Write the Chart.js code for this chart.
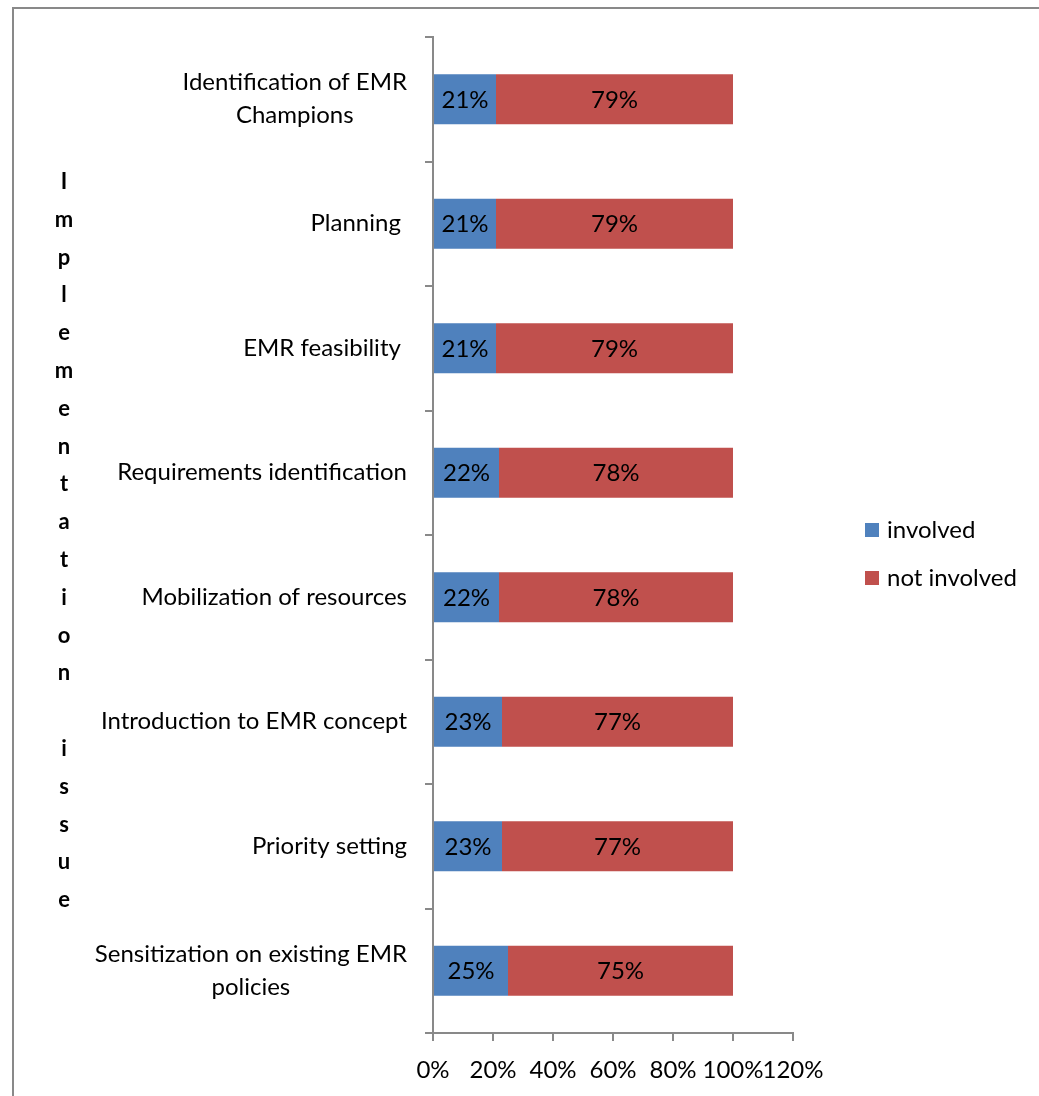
<!DOCTYPE html>
<html>
<head>
<meta charset="utf-8">
<script src="https://cdn.jsdelivr.net/npm/chart.js@4.4.0/dist/chart.umd.min.js"></script>
<style>
  html, body { margin: 0; padding: 0; background: #fff; overflow: hidden; }
  #frame { position: absolute; left: 12px; top: 7px; width: 1100px; height: 1150px; border: 2px solid #898989; box-sizing: border-box; }
  #wrap { position: absolute; left: 0; top: 0; width: 1039px; height: 1096px; }
</style>
</head>
<body>
<div id="frame"></div>
<div id="wrap"><canvas id="chart"></canvas></div>
<script>
// categories, top to bottom
var issues = [
  ["Identification of EMR", "Champions"],
  "Planning ",
  "EMR feasibility ",
  "Requirements identification",
  "Mobilization of resources",
  "Introduction to EMR concept",
  "Priority setting",
  ["Sensitization on existing EMR", "policies"]
];
var involved = [0.21, 0.21, 0.21, 0.22, 0.22, 0.23, 0.23, 0.25];
var notInvolved = [0.79, 0.79, 0.79, 0.78, 0.78, 0.77, 0.77, 0.75];
var seriesNames = ["involved", "not involved"];
var seriesColors = ["#4F81BD", "#C0504D"];
var xTicks = [0, 0.2, 0.4, 0.6, 0.8, 1.0, 1.2];
var axisTitle = "Implementation issue";

var FONT = "Lato, 'Open Sans', sans-serif";
var SIZE = 24;
var axisGrey = "#898989";

function pct(v) { return Math.round(v * 100) + "%"; }

// value text inside each bar segment
var barLabels = {
  id: "barLabels",
  afterDatasetsDraw: function(chart) {
    var ctx = chart.ctx;
    ctx.save();
    ctx.font = SIZE + "px " + FONT;
    ctx.fillStyle = "#000";
    ctx.textAlign = "center";
    ctx.textBaseline = "middle";
    chart.data.datasets.forEach(function(ds, di) {
      chart.getDatasetMeta(di).data.forEach(function(bar, i) {
        ctx.fillText(pct(ds.data[i]), (bar.x + bar.base) / 2, bar.y + 1);
      });
    });
    ctx.restore();
  }
};

// category names (lines centred on each other, block right aligned),
// stacked axis title and the legend
var sideText = {
  id: "sideText",
  afterDraw: function(chart) {
    var ctx = chart.ctx;
    var ys = chart.scales.y;
    var area = chart.chartArea;
    ctx.save();
    ctx.fillStyle = "#000";
    ctx.textBaseline = "middle";

    ctx.font = SIZE + "px " + FONT;
    ctx.textAlign = "center";
    var right = ys.right - 26;
    issues.forEach(function(lab, i) {
      var lines = Array.isArray(lab) ? lab : [lab];
      var w = Math.max.apply(null, lines.map(function(l) { return ctx.measureText(l).width; }));
      var cy = ys.getPixelForValue(i);
      var lh = 33;
      lines.forEach(function(l, k) {
        ctx.fillText(l, right - w / 2, cy + (k - (lines.length - 1) / 2) * lh);
      });
    });

    ctx.font = "bold 22px " + FONT;
    var letters = axisTitle.split("");
    var step = 37.8;
    var top = (area.top + area.bottom) / 2 + 6 - (letters.length - 1) * step / 2;
    letters.forEach(function(ch, k) {
      ctx.fillText(ch, 64, top + k * step);
    });

    ctx.font = SIZE + "px " + FONT;
    ctx.textAlign = "left";
    seriesNames.forEach(function(name, k) {
      var y = (area.top + area.bottom) / 2 - 5 + k * 48;
      ctx.fillStyle = seriesColors[k];
      ctx.fillRect(area.right + 72, y - 7, 14, 14);
      ctx.fillStyle = "#000";
      ctx.fillText(name, area.right + 94, y);
    });
    ctx.restore();
  }
};

var ctx = document.getElementById("chart");
new Chart(ctx, {
  type: "bar",
  data: {
    labels: issues,
    datasets: [
      { label: seriesNames[0], data: involved, backgroundColor: seriesColors[0] },
      { label: seriesNames[1], data: notInvolved, backgroundColor: seriesColors[1] }
    ]
  },
  options: {
    indexAxis: "y",
    responsive: true,
    maintainAspectRatio: false,
    animation: false,
    barPercentage: 0.4,
    categoryPercentage: 1.0,
    layout: { padding: { top: 37, right: 246, bottom: 0, left: 0 } },
    plugins: {
      legend: { display: false },
      tooltip: { enabled: false }
    },
    scales: {
      x: {
        stacked: true,
        min: 0,
        max: 1.2,
        afterBuildTicks: function(scale) {
          scale.ticks = xTicks.map(function(v) { return { value: v }; });
        },
        afterFit: function(scale) { scale.height = 63; },
        ticks: {
          color: "#000",
          font: { family: FONT, size: SIZE },
          padding: 15,
          maxRotation: 0,
          minRotation: 0,
          autoSkip: false,
          callback: function(v) { return pct(v); }
        },
        grid: { drawOnChartArea: false, color: axisGrey, lineWidth: 2, tickLength: 8 },
        border: { color: axisGrey, width: 2 }
      },
      y: {
        stacked: true,
        afterFit: function(scale) { scale.width = 433; },
        ticks: { display: false },
        grid: { offset: true, drawOnChartArea: false, color: axisGrey, lineWidth: 2, tickLength: 8 },
        border: { color: axisGrey, width: 2 }
      }
    }
  },
  plugins: [barLabels, sideText]
});
</script>
</body>
</html>
